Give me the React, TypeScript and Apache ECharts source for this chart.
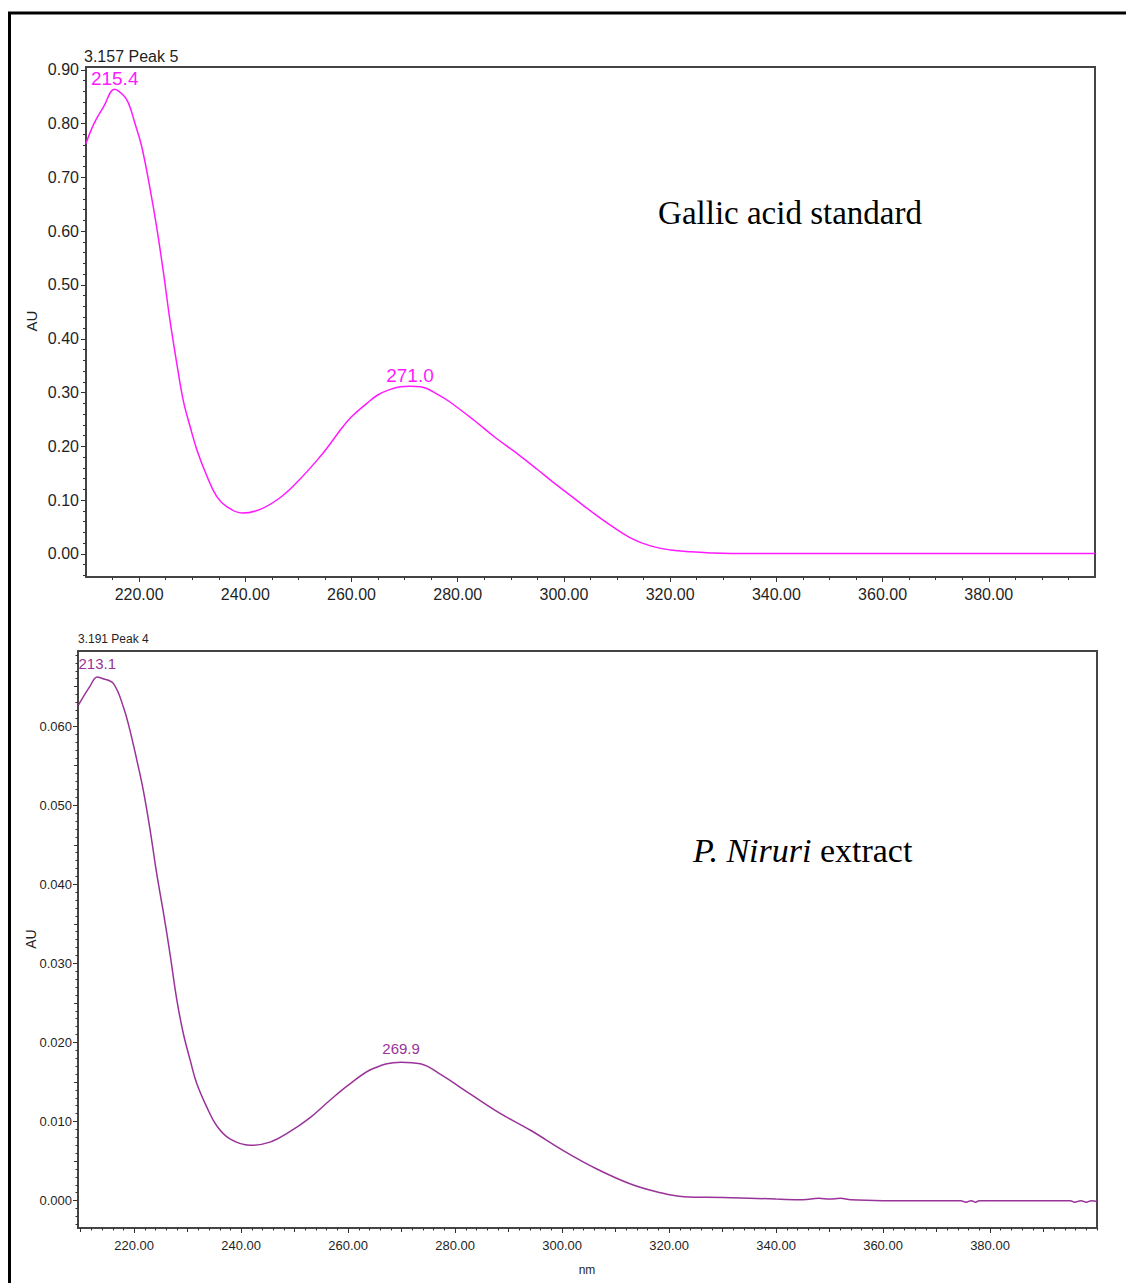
import React, { useEffect, useRef } from "react";
import * as echarts from "echarts";

// ---- Data ----
const TOP_NM = [210, 211.5, 213.3, 215.4, 217, 218, 219.2, 220.5, 222.1, 223.3, 224.6, 225.8, 227.1, 228.3, 229.6, 230.9, 232.8, 234.6, 236.5, 239.4, 242.8, 246.6, 250, 254.1, 256, 258, 260, 262.9, 265, 267.3, 269.2, 271.0, 273, 276.7, 278.6, 283, 287, 291.8, 295, 298, 301.2, 305, 308.8, 312.5, 316.3, 320.1, 323.9, 327.6, 331.4, 360, 400];
const TOP_AU = [0.763, 0.800, 0.831, 0.864, 0.853, 0.838, 0.801, 0.757, 0.677, 0.608, 0.522, 0.435, 0.354, 0.286, 0.237, 0.193, 0.144, 0.107, 0.088, 0.076, 0.083, 0.105, 0.136, 0.181, 0.205, 0.232, 0.255, 0.280, 0.296, 0.306, 0.311, 0.312, 0.311, 0.294, 0.282, 0.249, 0.217, 0.182, 0.157, 0.133, 0.109, 0.080, 0.053, 0.030, 0.015, 0.0075, 0.004, 0.002, 0.001, 0.001, 0.001];

const BOT_NM = [209.6, 211.7, 213.1, 214.2, 216.1, 218, 219.2, 220.5, 221.7, 223, 224.2, 225.5, 226.7, 228, 229.2, 230.5, 231.7, 233.6, 235.4, 237.9, 241.7, 245.4, 248.8, 252.9, 256.6, 260.4, 264.7, 269.9, 273.5, 277.2, 282.8, 288.5, 294.1, 300.3, 306.5, 312.8, 317.8, 322.8, 330, 340, 345, 348, 350, 352, 354, 360, 374.5, 375.5, 376.5, 377.3, 378, 395, 395.8, 397, 398, 399, 400];
const BOT_AU = [0.0627, 0.0650, 0.0662, 0.0660, 0.0654, 0.0624, 0.0595, 0.0557, 0.0519, 0.0468, 0.0414, 0.0363, 0.0312, 0.0253, 0.0211, 0.0177, 0.0148, 0.0118, 0.0095, 0.0078, 0.0070, 0.0074, 0.0086, 0.0105, 0.0127, 0.0148, 0.0167, 0.0175, 0.0173, 0.0160, 0.0135, 0.0110, 0.0089, 0.0063, 0.0040, 0.0021, 0.0011, 0.0005, 0.0004, 0.0002, 0.0001, 0.0003, 0.0002, 0.0003, 0.0001, 0.0000, 0.0000, -0.0002, 0.0000, -0.0002, 0.0000, 0.0000, -0.0002, 0.0000, -0.0002, 0.0000, -0.0001];

const TOP_PEAK_NM = [215.4, 271.0];
const TOP_PEAK_AU = [0.864, 0.312];
const BOT_PEAK_NM = [213.1, 269.9];
const BOT_PEAK_AU = [0.0662, 0.0175];

const X_LABELS = [220, 240, 260, 280, 300, 320, 340, 360, 380];
const TOP_Y_LABELS = [0, 0.1, 0.2, 0.3, 0.4, 0.5, 0.6, 0.7, 0.8, 0.9];
const BOT_Y_LABELS = [0, 0.01, 0.02, 0.03, 0.04, 0.05, 0.06];

const TOP_TITLE = "3.157 Peak 5";
const BOT_TITLE = "3.191 Peak 4";

// tick helpers
const steps = (a: number, b: number, s: number) => {
  const out: number[] = [];
  const n = Math.round((b - a) / s);
  for (let i = 0; i <= n; i++) out.push(+(a + i * s).toFixed(6));
  return out;
};

const TOP_COLOR = "#ff1aff";
const BOT_COLOR = "#993399";
const TEXT = "#1f1f1f";
const AXIS = "#333";
const SANS = "'Liberation Sans', Arial, sans-serif";
const NARROW = "'Liberation Sans Narrow', 'Arial Narrow', 'Liberation Sans', Arial, sans-serif";
const SERIF = "'Liberation Serif', 'Times New Roman', serif";

export default function App() {
  const ref = useRef<HTMLDivElement>(null);
  useEffect(() => {
    if (!ref.current) return;
    const chart = echarts.init(ref.current, null, { renderer: "svg" });

    const tickAxis = (
      kind: "x" | "y",
      grid: number,
      min: number,
      max: number,
      values: number[],
      len: number,
      label?: any
    ) => ({
      type: "value",
      gridIndex: grid,
      min,
      max,
      position: kind === "x" ? "bottom" : "left",
      offset: 0,
      axisLine: { show: false, onZero: false },
      axisTick: { show: true, customValues: values, length: len, lineStyle: { color: AXIS, width: 1 } },
      axisLabel: label ? { show: true, customValues: values, ...label } : { show: false },
      splitLine: { show: false },
    });

    const topX = { min: 210, max: 400 };
    const botX = { min: 209.5, max: 400 };
    const topY = { min: -0.0428, max: 0.9052 };
    const botY = { min: -0.00346, max: 0.0695 };

    const xAxis = [
      tickAxis("x", 0, topX.min, topX.max, X_LABELS, 5, {
        formatter: (v: number) => v.toFixed(2), fontSize: 16, fontFamily: SANS, color: TEXT, margin: 9,
      }),
      tickAxis("x", 0, topX.min, topX.max, steps(215, 395, 5), 3),
      tickAxis("x", 1, botX.min, botX.max, X_LABELS, 5, {
        formatter: (v: number) => v.toFixed(2), fontSize: 13, fontFamily: NARROW, color: TEXT, margin: 11,
      }),
      tickAxis("x", 1, botX.min, botX.max, steps(210, 400, 2), 2.5),
      tickAxis("x", 1, botX.min, botX.max, steps(210, 390, 10), 4),
    ];
    const yAxis = [
      tickAxis("y", 0, topY.min, topY.max, TOP_Y_LABELS, 5, {
        formatter: (v: number) => v.toFixed(2), fontSize: 16, fontFamily: SANS, color: TEXT, margin: 7,
      }),
      tickAxis("y", 0, topY.min, topY.max, steps(-0.04, 0.9, 0.02), 3),
      tickAxis("y", 1, botY.min, botY.max, BOT_Y_LABELS, 5, {
        formatter: (v: number) => v.toFixed(3), fontSize: 13, fontFamily: NARROW, color: TEXT, margin: 6,
      }),
      tickAxis("y", 1, botY.min, botY.max, steps(-0.003, 0.069, 0.001), 2.5),
      tickAxis("y", 1, botY.min, botY.max, steps(0.005, 0.065, 0.01), 4),
    ];

    const markPoints = (nms: number[], aus: number[], color: string, size: number, font: string, dist: number) => ({
      symbol: "circle",
      symbolSize: 1,
      itemStyle: { color: "rgba(0,0,0,0)" },
      label: {
        show: true,
        position: "top",
        distance: dist,
        color,
        fontSize: size,
        fontFamily: font,
        formatter: (p: any) => Number(p.data.coord[0]).toFixed(1),
      },
      data: nms.map((n, i) => ({ coord: [n, aus[i]] })),
    });

    chart.setOption({
      animation: false,
      backgroundColor: "#ffffff",
      grid: [
        { left: 86, top: 67, width: 1009, height: 510, show: true, borderColor: "#444", borderWidth: 2, backgroundColor: "transparent" },
        { left: 78, top: 651, width: 1019, height: 577, show: true, borderColor: "#444", borderWidth: 2, backgroundColor: "transparent" },
      ],
      xAxis,
      yAxis,
      series: [
        {
          type: "line",
          xAxisIndex: 0,
          yAxisIndex: 0,
          data: TOP_NM.map((n, i) => [n, TOP_AU[i]]),
          showSymbol: false,
          smooth: 0.4,
          lineStyle: { color: TOP_COLOR, width: 1.5 },
          markPoint: markPoints(TOP_PEAK_NM, TOP_PEAK_AU, TOP_COLOR, 19, SANS, 1),
        },
        {
          type: "line",
          xAxisIndex: 2,
          yAxisIndex: 2,
          data: BOT_NM.map((n, i) => [n, BOT_AU[i]]),
          showSymbol: false,
          smooth: 0.4,
          lineStyle: { color: BOT_COLOR, width: 1.5 },
          markPoint: markPoints(BOT_PEAK_NM, BOT_PEAK_AU, BOT_COLOR, 15, NARROW, 6),
        },
      ],
      graphic: [
        { type: "line", shape: { x1: 8, y1: 13, x2: 1126, y2: 13 }, style: { stroke: "#000", lineWidth: 3 } },
        { type: "line", shape: { x1: 9.5, y1: 12, x2: 9.5, y2: 1283 }, style: { stroke: "#000", lineWidth: 3 } },
        { type: "text", x: 84, y: 56, style: { text: TOP_TITLE, fontSize: 16, fontFamily: SANS, fill: TEXT, verticalAlign: "middle" } },
        { type: "text", x: 78, y: 639, style: { text: BOT_TITLE, fontSize: 12, fontFamily: NARROW, fill: TEXT, verticalAlign: "middle" } },
        { type: "text", x: 31, y: 321, rotation: Math.PI / 2, style: { text: "AU", fontSize: 15, fontFamily: SANS, fill: TEXT, align: "center", verticalAlign: "middle" } },
        { type: "text", x: 31, y: 939, rotation: Math.PI / 2, style: { text: "AU", fontSize: 14, fontFamily: NARROW, fill: TEXT, align: "center", verticalAlign: "middle" } },
        { type: "text", x: 587, y: 1270, style: { text: "nm", fontSize: 12, fontFamily: NARROW, fill: TEXT, align: "center", verticalAlign: "middle" } },
        { type: "text", x: 790, y: 213, style: { text: "Gallic acid standard", fontSize: 33, fontFamily: SERIF, fill: "#000", align: "center", verticalAlign: "middle" } },
        {
          type: "text", x: 693, y: 850,
          style: {
            text: "{i|P. Niruri}{n| extract}",
            verticalAlign: "middle",
            rich: {
              i: { fontSize: 34, fontFamily: SERIF, fontStyle: "italic", fill: "#000", color: "#000" },
              n: { fontSize: 34, fontFamily: SERIF, fill: "#000", color: "#000" },
            },
          },
        },
      ],
    });
    return () => chart.dispose();
  }, []);

  return <div ref={ref} style={{ position: "absolute", left: 0, top: 0, width: 1126, height: 1283 }} />;
}
